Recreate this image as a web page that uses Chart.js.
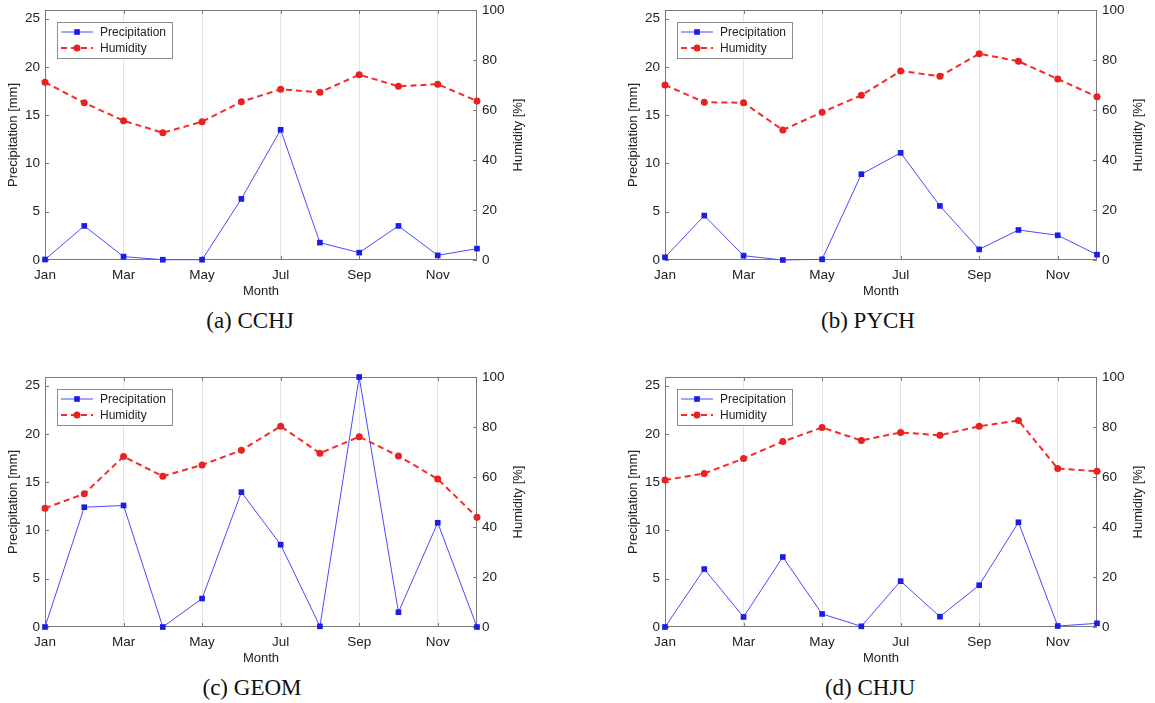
<!DOCTYPE html>
<html><head><meta charset="utf-8">
<script src="https://cdn.jsdelivr.net/npm/chart.js@4.4.0/dist/chart.umd.min.js"></script>
<style>
html,body{margin:0;padding:0;background:#fff;overflow:hidden;width:1155px;height:703px}
.wrap{position:absolute;width:535px;height:295px;overflow:hidden}
.wrap canvas{position:absolute;left:0;top:0}
.cap{position:absolute;font-family:"Liberation Serif","Times New Roman",serif;font-size:23px;color:#111;transform:translate(-50%,-50%);white-space:nowrap}
</style></head><body>
<div class="wrap" style="left:0px;top:0px"><canvas id="cA" width="535" height="310"></canvas></div>
<div class="wrap" style="left:620px;top:0px"><canvas id="cB" width="535" height="310"></canvas></div>
<div class="wrap" style="left:0px;top:367px"><canvas id="cC" width="535" height="310"></canvas></div>
<div class="wrap" style="left:620px;top:367px"><canvas id="cD" width="535" height="310"></canvas></div>
<div class="cap" style="left:250px;top:321px">(a) CCHJ</div>
<div class="cap" style="left:868px;top:321px">(b) PYCH</div>
<div class="cap" style="left:252px;top:688px">(c) GEOM</div>
<div class="cap" style="left:870px;top:688px">(d) CHJU</div>
<script>
const months = ['Jan','Feb','Mar','Apr','May','Jun','Jul','Aug','Sep','Oct','Nov','Dec'];
const xTickLabels = ['Jan','Mar','May','Jul','Sep','Nov'];
const precipTicks = [0,5,10,15,20,25];
const humidTicks = [0,20,40,60,80,100];
const precipMax = 25.9;
const humidMax = 100;

const precipCCHJ = [0.05,3.53,0.35,0.03,0.03,6.33,13.49,1.80,0.76,3.53,0.48,1.18];
const humidCCHJ  = [71.1,62.9,55.7,50.9,55.3,63.3,68.3,67.1,74.1,69.5,70.3,63.6];
const precipPYCH = [0.28,4.6,0.45,0.0,0.07,8.89,11.1,5.6,1.1,3.11,2.56,0.55];
const humidPYCH  = [70.0,63.1,62.9,52.0,59.1,65.9,75.6,73.5,82.5,79.5,72.4,65.3];
const precipGEOM = [0.0,12.41,12.59,0.0,2.95,13.97,8.53,0.07,25.9,1.53,10.8,0.0];
const humidGEOM  = [47.5,53.3,68.2,60.3,64.8,70.7,80.3,69.5,76.1,68.4,59.2,43.9];
const precipCHJU = [0.0,6.0,1.04,7.25,1.35,0.07,4.75,1.07,4.33,10.85,0.1,0.38];
const humidCHJU  = [58.8,61.4,67.4,74.2,79.8,74.6,77.8,76.7,80.3,82.6,63.4,62.3];

const FONT = '"Liberation Sans", Arial, Helvetica, sans-serif';
const TXT = '#222222';
const AXC = '#7a7a7a';
Chart.defaults.font.family = FONT;
Chart.defaults.color = TXT;

const decor = {
  id: 'decor',
  beforeDatasetsDraw(chart) {
    const {ctx, chartArea: a, scales} = chart;
    ctx.save();
    ctx.strokeStyle = AXC;
    ctx.lineWidth = 1;
    ctx.beginPath();
    ctx.rect(Math.round(a.left) + 0.5, Math.round(a.top) + 0.5, Math.round(a.right - a.left) - 1, Math.round(a.bottom - a.top) - 1);
    ctx.stroke();
    ctx.beginPath();
    scales.y.ticks.forEach(t => {
      const py = Math.round(scales.y.getPixelForValue(t.value)) + 0.5;
      ctx.moveTo(a.left, py); ctx.lineTo(a.left + 4, py);
    });
    scales.y1.ticks.forEach(t => {
      const py = Math.round(scales.y1.getPixelForValue(t.value)) + 0.5;
      ctx.moveTo(a.right, py); ctx.lineTo(a.right - 4, py);
    });
    months.forEach((m, i) => {
      if (!xTickLabels.includes(m)) return;
      const px = Math.round(scales.x.getPixelForValue(i)) + 0.5;
      ctx.moveTo(px, a.bottom); ctx.lineTo(px, a.bottom - 4);
      ctx.moveTo(px, a.top); ctx.lineTo(px, a.top + 4);
    });
    ctx.stroke();
    ctx.restore();
  },
  afterDraw(chart) {
    const {ctx, chartArea: a} = chart;
    ctx.save();
    ctx.fillStyle = TXT;
    ctx.font = '13px ' + FONT;
    ctx.textAlign = 'center';
    ctx.textBaseline = 'middle';
    ctx.translate(a.right + 41, (a.top + a.bottom) / 2);
    ctx.rotate(-Math.PI / 2);
    ctx.fillText('Humidity [%]', 0, 0);
    ctx.restore();
    ctx.save();
    const bx = a.left + 12, by = a.top + 12, bw = 115, bh = 36;
    ctx.fillStyle = '#fff';
    ctx.fillRect(bx, by, bw, bh);
    ctx.strokeStyle = '#8c8c8c';
    ctx.lineWidth = 1;
    ctx.strokeRect(Math.round(bx) + 0.5, Math.round(by) + 0.5, bw, bh);
    chart.data.datasets.forEach((ds, i) => {
      const ry = by + 10 + i * 16;
      ctx.strokeStyle = ds.borderColor;
      ctx.lineWidth = ds.borderWidth;
      ctx.setLineDash(ds.borderDash || []);
      ctx.beginPath();
      ctx.moveTo(bx + 4, ry); ctx.lineTo(bx + 36, ry);
      ctx.stroke();
      ctx.setLineDash([]);
      ctx.fillStyle = ds.pointBackgroundColor;
      ctx.beginPath();
      if (ds.pointStyle === 'rect') {
        const s = ds.pointRadius * Math.SQRT1_2;
        ctx.rect(bx + 20 - s, ry - s, 2 * s, 2 * s);
      } else {
        ctx.arc(bx + 20, ry, ds.pointRadius, 0, Math.PI * 2);
      }
      ctx.fill();
      ctx.fillStyle = TXT;
      ctx.font = '12px ' + FONT;
      ctx.textAlign = 'left';
      ctx.textBaseline = 'middle';
      ctx.fillText(ds.label, bx + 43, ry + 0.5);
    });
    ctx.restore();
  }
};

function makeChart(id, precip, humid) {
  return new Chart(document.getElementById(id), {
    type: 'line',
    data: {
      labels: months,
      datasets: [
        {
          label: 'Precipitation', data: precip, yAxisID: 'y', order: 1,
          borderColor: '#4a4aff', borderWidth: 1,
          pointStyle: 'rect', pointRadius: 4, pointHoverRadius: 4,
          pointBackgroundColor: '#1c1ce6', pointBorderColor: '#1c1ce6', pointBorderWidth: 0,
          tension: 0, clip: false
        },
        {
          label: 'Humidity', data: humid, yAxisID: 'y1', order: 0,
          borderColor: '#f52a2a', borderWidth: 2, borderDash: [6, 4],
          pointStyle: 'circle', pointRadius: 3.5, pointHoverRadius: 3.5,
          pointBackgroundColor: '#e82222', pointBorderColor: '#e82222', pointBorderWidth: 0,
          tension: 0, clip: false
        }
      ]
    },
    options: {
      responsive: false, animation: false, devicePixelRatio: 1,
      layout: {padding: {top: 10, left: 0, right: 0, bottom: 0}},
      plugins: {legend: {display: false}, tooltip: {enabled: false}},
      events: [],
      scales: {
        x: {
          type: 'category', offset: false,
          border: {display: false},
          grid: {
            drawTicks: false,
            color: c => (c.tick && xTickLabels.includes(months[c.index]) && c.index > 0) ? '#e4e4e4' : 'rgba(0,0,0,0)'
          },
          ticks: {
            autoSkip: false, maxRotation: 0, padding: 7,
            font: {size: 13.5}, color: TXT,
            callback: (v, i) => xTickLabels.includes(months[i]) ? months[i] : ''
          },
          title: {display: true, text: 'Month', font: {size: 13}, color: TXT, padding: {top: 0, bottom: 11}},
          afterFit: s => { s.height = 50; s.paddingLeft = 0; s.paddingRight = 0; }
        },
        y: {
          position: 'left', min: 0, max: precipMax,
          border: {display: false},
          grid: {display: false, drawTicks: false},
          ticks: {padding: 5, font: {size: 13.5}, color: TXT},
          afterBuildTicks: s => { s.ticks = precipTicks.map(v => ({value: v})); },
          title: {display: true, text: 'Precipitation [mm]', font: {size: 13}, color: TXT, padding: {top: 6, bottom: 0}},
          afterFit: s => { s.width = 45; s.paddingTop = 0; s.paddingBottom = 0; }
        },
        y1: {
          position: 'right', min: 0, max: humidMax,
          border: {display: false},
          grid: {display: false, drawTicks: false},
          ticks: {padding: 5, font: {size: 13.5}, color: TXT},
          afterBuildTicks: s => { s.ticks = humidTicks.map(v => ({value: v})); },
          afterFit: s => { s.width = 58; s.paddingTop = 0; s.paddingBottom = 0; }
        }
      }
    },
    plugins: [decor]
  });
}

makeChart('cA', precipCCHJ, humidCCHJ);
makeChart('cB', precipPYCH, humidPYCH);
makeChart('cC', precipGEOM, humidGEOM);
makeChart('cD', precipCHJU, humidCHJU);
</script>
</body></html>
